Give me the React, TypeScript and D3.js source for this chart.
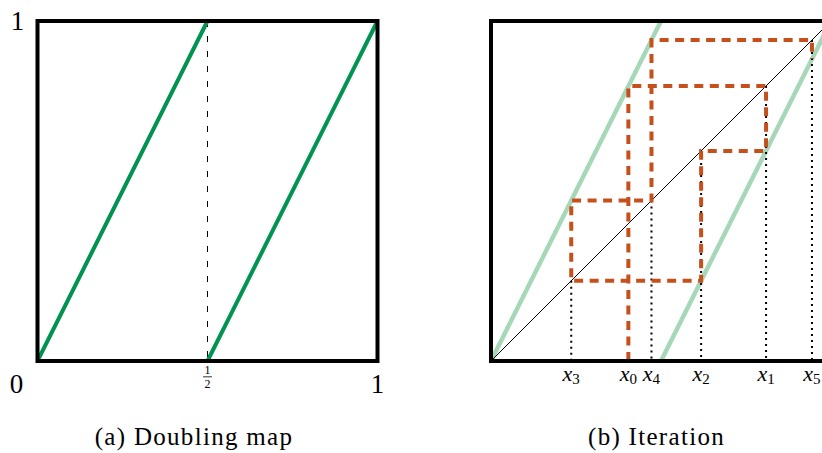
import React, { useEffect, useRef } from "react";
import * as d3 from "d3";

// doubling map branches, in unit coordinates
const branchA: [number, number][] = [[0, 0], [0.5, 1]];
const branchB: [number, number][] = [[0.5, 0], [1, 1]];
const halfMark = 0.5;

// orbit: x0..x5, plus the next value where the path stops
const orbit = [0.404, 0.809, 0.618, 0.236, 0.472, 0.944, 0.888];
const orbitLabels = ["0", "1", "2", "3", "4", "5"];

const captions = ["(a) Doubling map", "(b) Iteration"];

const FONT = "Liberation Serif";

const App = () => {
  const ref = useRef<SVGSVGElement>(null);

  useEffect(() => {
    document.body.style.margin = "0";
    document.body.style.overflow = "hidden";

    const svg = d3.select(ref.current);
    svg.selectAll("*").remove();

    const y = d3.scaleLinear().domain([0, 1]).range([361, 21]);
    const xa = d3.scaleLinear().domain([0, 1]).range([37.5, 377.5]);
    const xb = d3.scaleLinear().domain([0, 1]).range([491, 831]);

    const lineA = d3.line<[number, number]>().x(d => xa(d[0])).y(d => y(d[1]));
    const lineB = d3.line<[number, number]>().x(d => xb(d[0])).y(d => y(d[1]));

    const label = (g: any, x: number, yy: number, s: string, size: number) =>
      g.append("text")
        .attr("x", x).attr("y", yy)
        .attr("text-anchor", "middle")
        .attr("font-family", FONT)
        .attr("font-size", size)
        .attr("fill", "#000")
        .text(s);

    // ---- panel (a)
    const ga = svg.append("g");
    ga.append("line")
      .attr("x1", xa(halfMark)).attr("x2", xa(halfMark))
      .attr("y1", y(1)).attr("y2", y(0))
      .attr("stroke", "#000").attr("stroke-width", 1)
      .attr("stroke-dasharray", "6,9");
    [branchA, branchB].forEach(b => {
      ga.append("path").attr("d", lineA(b)).attr("fill", "none")
        .attr("stroke", "#009352").attr("stroke-width", 4);
    });
    ga.append("rect")
      .attr("x", xa(0)).attr("y", y(1))
      .attr("width", xa(1) - xa(0)).attr("height", y(0) - y(1))
      .attr("fill", "none").attr("stroke", "#000").attr("stroke-width", 4);

    label(ga, 17.5, 30, "1", 27);
    label(ga, 16.5, 393, "0", 27);
    label(ga, xa(1), 393, "1", 27);

    // fraction 1/2
    label(ga, xa(halfMark), 374, "1", 12);
    ga.append("line").attr("x1", xa(halfMark) - 4.5).attr("x2", xa(halfMark) + 4.5)
      .attr("y1", 376.8).attr("y2", 376.8).attr("stroke", "#000").attr("stroke-width", 0.8);
    label(ga, xa(halfMark), 388, "2", 12);

    // ---- panel (b)
    const gb = svg.append("g");
    [branchA, branchB].forEach(b => {
      gb.append("path").attr("d", lineB(b)).attr("fill", "none")
        .attr("stroke", "#a7d7b9").attr("stroke-width", 4.5);
    });
    gb.append("line")
      .attr("x1", xb(0)).attr("y1", y(0)).attr("x2", xb(1)).attr("y2", y(1))
      .attr("stroke", "#000").attr("stroke-width", 1);

    // dotted drops from the diagonal
    orbit.slice(1, 6).forEach(v => {
      gb.append("line")
        .attr("x1", xb(v)).attr("x2", xb(v))
        .attr("y1", y(v)).attr("y2", y(0))
        .attr("stroke", "#000").attr("stroke-width", 2)
        .attr("stroke-dasharray", "2,4");
    });

    // cobweb
    const pts: [number, number][] = [[orbit[0], 0]];
    for (let i = 0; i < 6; i++) {
      pts.push([orbit[i], orbit[i + 1]]);
      if (i < 5) pts.push([orbit[i + 1], orbit[i + 1]]);
    }
    gb.append("path").attr("d", lineB(pts)).attr("fill", "none")
      .attr("stroke", "#c5501b").attr("stroke-width", 4)
      .attr("stroke-dasharray", "9,6.5");

    gb.append("rect")
      .attr("x", xb(0)).attr("y", y(1))
      .attr("width", xb(1) - xb(0)).attr("height", y(0) - y(1))
      .attr("fill", "none").attr("stroke", "#000").attr("stroke-width", 4);

    // x_i labels
    orbitLabels.forEach((s, i) => {
      const t = gb.append("text")
        .attr("x", xb(orbit[i])).attr("y", 381)
        .attr("text-anchor", "middle")
        .attr("font-family", FONT).attr("font-size", 22).attr("fill", "#000");
      t.append("tspan").attr("font-style", "italic").text("x");
      t.append("tspan").attr("font-size", 15).attr("dy", 3).text(s);
    });

    // captions
    label(svg, 194, 445, captions[0], 25).attr("letter-spacing", 1.3);
    label(svg, 656.5, 445, captions[1], 25).attr("letter-spacing", 1.3);
  }, []);

  return (
    <svg ref={ref} width={822} height={453} style={{ display: "block", background: "#fff" }} />
  );
};

export default App;
